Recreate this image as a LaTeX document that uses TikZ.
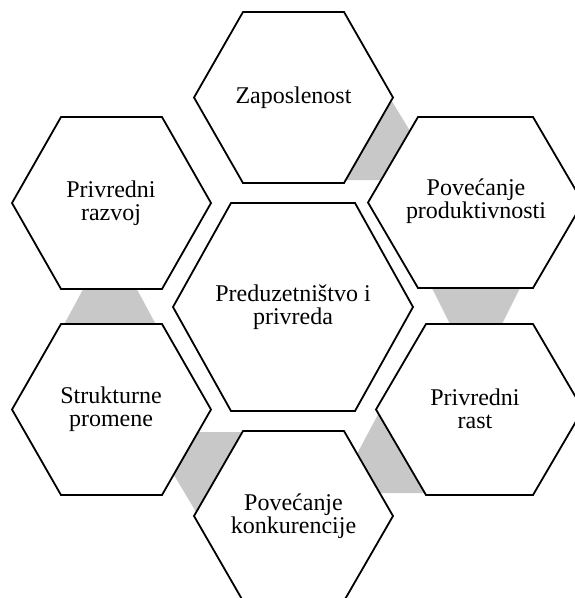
\documentclass[tikz,border=0pt]{standalone}
\usepackage{fontspec}
\setmainfont{Liberation Serif}
\definecolor{graybg}{RGB}{200,200,200}
\begin{document}
\begin{tikzpicture}[x=1pt,y=-1pt,
  hex/.style={draw=black,line width=1.8pt,fill=white,line join=miter},
  band/.style={fill=graybg,draw=none},
  lbl/.style={font=\fontsize{24}{23.5}\selectfont,align=center,inner sep=0pt}]
\useasboundingbox (0,0) rectangle (575,598);
\clip (0,0) rectangle (575,598);
% gray bands
\fill[band] (380,82) -- (420,147) -- (395,180) -- (340,180) -- cycle;
\fill[band] (428,280) -- (524,280) -- (498,332) -- (454,332) -- cycle;
\fill[band] (390,392) -- (435,392) -- (435,493) -- (370,493) -- (350,467) -- cycle;
\fill[band] (190,432) -- (250,432) -- (205,527) -- (165,460) -- cycle;
\fill[band] (87,282) -- (133,282) -- (160,332) -- (60,332) -- cycle;
% hexagons
\draw[hex] (194,97.5) -- (243,12) -- (344,12) -- (393,97.5) -- (344,183) -- (243,183) -- cycle;
\draw[hex] (368,202.5) -- (418,117) -- (533,117) -- (583,202.5) -- (533,288) -- (418,288) -- cycle;
\draw[hex] (12,203) -- (61,117) -- (162,117) -- (211,203) -- (162,289) -- (61,289) -- cycle;
\draw[hex] (173,307) -- (231,203) -- (355,203) -- (413,307) -- (355,411) -- (231,411) -- cycle;
\draw[hex] (376,409.5) -- (426,324) -- (533,324) -- (583,409.5) -- (533,495) -- (426,495) -- cycle;
\draw[hex] (12,409.5) -- (61,324) -- (162,324) -- (211,409.5) -- (162,495) -- (61,495) -- cycle;
\draw[hex] (194,516) -- (243,431) -- (344,431) -- (393,516) -- (344,601) -- (243,601) -- cycle;
% labels
\node[lbl] (zap) at (293.5,98) {Zaposlenost};
\node[lbl] (prod) at (476,201) {Povećanje\\produktivnosti};
\node[lbl] (razvoj) at (111,203) {Privredni\\razvoj};
\node[lbl] (centar) at (293,307) {Preduzetništvo i\\privreda};
\node[lbl] (rast) at (475,409) {Privredni\\rast};
\node[lbl] (strukt) at (111,409) {Strukturne\\promene};
\node[lbl] (konk) at (293.5,516) {Povećanje\\konkurencije};
\end{tikzpicture}
\end{document}
